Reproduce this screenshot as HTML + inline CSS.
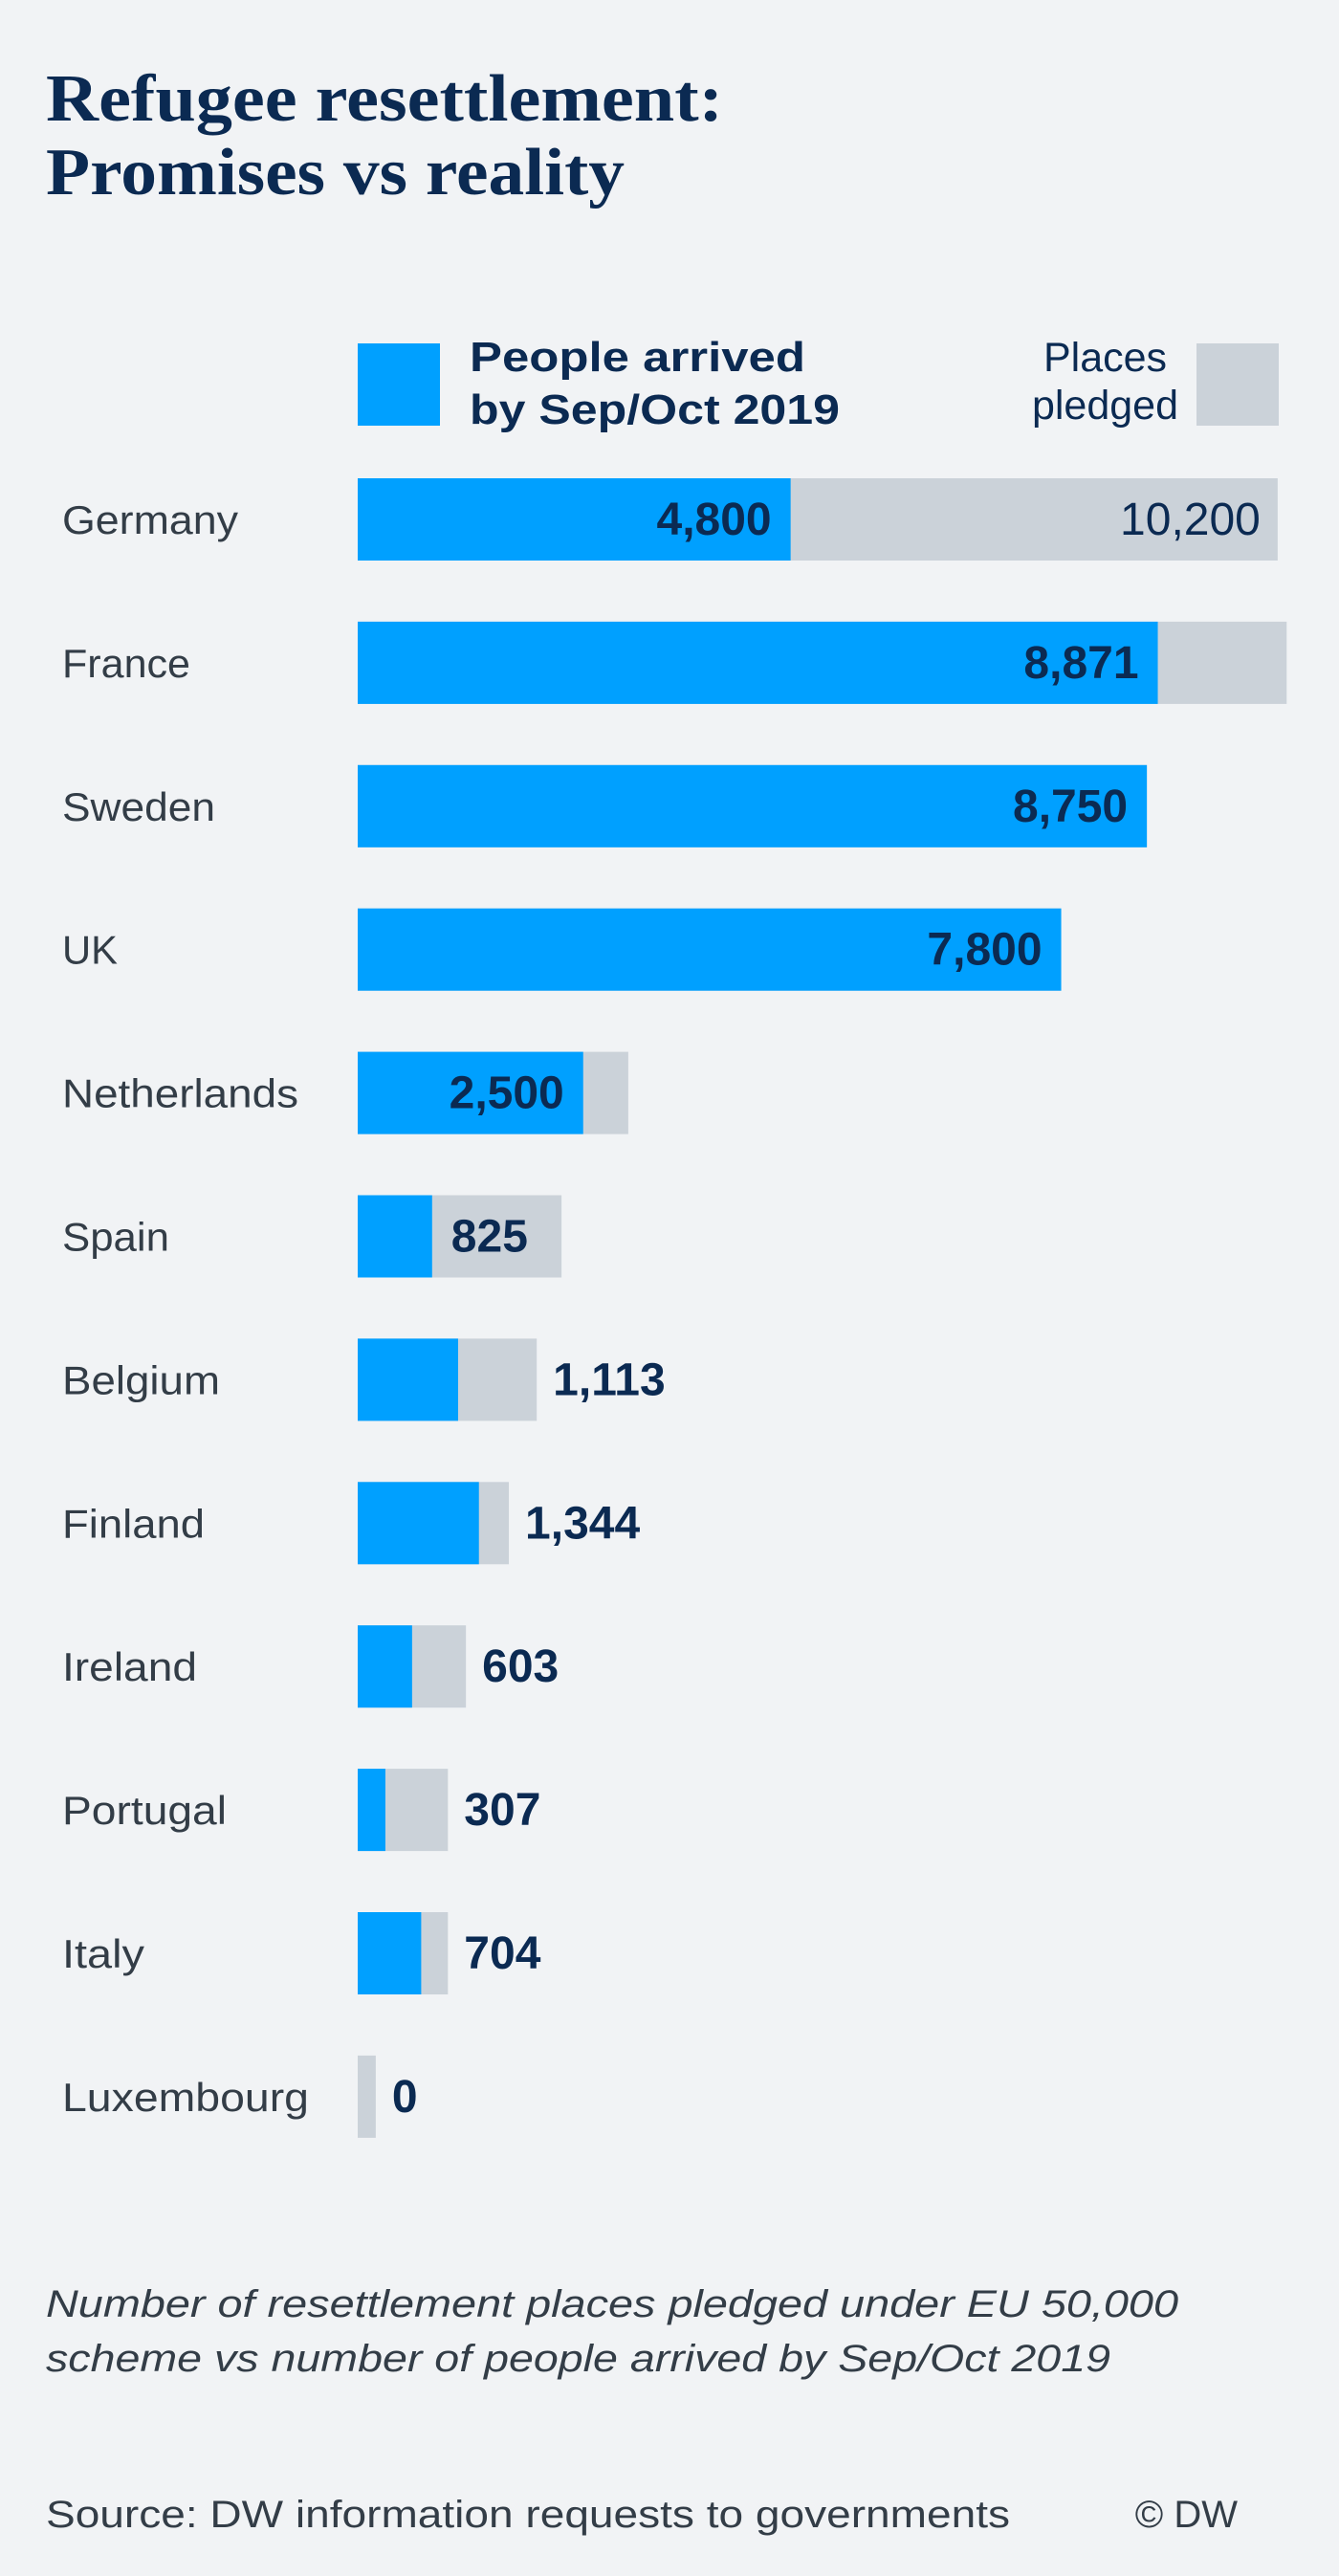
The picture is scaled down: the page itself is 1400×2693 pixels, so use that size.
<!DOCTYPE html>
<html><head><meta charset="utf-8">
<style>
html,body{margin:0;padding:0;background:#f1f3f5;}
svg{display:block;}
</style></head>
<body>
<svg id="chart" width="1400" height="2693" viewBox="0 0 1400 2693" xmlns="http://www.w3.org/2000/svg" font-family="'Liberation Sans', sans-serif">
<rect x="0" y="0" width="1400" height="2693" fill="#f1f3f5"/>
<text fill="#0b2a52" font-family="'Liberation Serif', serif" font-weight="bold" font-size="70">
<tspan x="48" y="126" textLength="708" lengthAdjust="spacingAndGlyphs">Refugee resettlement:</tspan>
<tspan x="48" y="203" textLength="605" lengthAdjust="spacingAndGlyphs">Promises vs reality</tspan>
</text>
<g>
<rect x="374" y="359" width="86" height="86" fill="#00a0ff"/>
<text fill="#0b2a52" font-weight="bold" font-size="44">
<tspan x="491" y="388" textLength="351" lengthAdjust="spacingAndGlyphs">People arrived</tspan>
<tspan x="491" y="443" textLength="387" lengthAdjust="spacingAndGlyphs">by Sep/Oct 2019</tspan>
</text>
<text fill="#0b2a52" font-size="43" text-anchor="end">
<tspan x="1232" y="388">Places</tspan>
<tspan x="1232" y="438">pledged</tspan>
</text>
<rect x="1251" y="359" width="86" height="86" fill="#cbd2d9"/>
</g>
<g id="bars"></g>
<text fill="#333d47" font-style="italic" font-size="40">
<tspan x="48" y="2422" textLength="1184" lengthAdjust="spacingAndGlyphs">Number of resettlement places pledged under EU 50,000</tspan>
<tspan x="48" y="2479" textLength="1113" lengthAdjust="spacingAndGlyphs">scheme vs number of people arrived by Sep/Oct 2019</tspan>
</text>
<text x="48" y="2642" fill="#333d47" font-size="40" textLength="1008" lengthAdjust="spacingAndGlyphs">Source: DW information requests to governments</text>
<text x="1294" y="2642" fill="#333d47" font-size="40" text-anchor="end">© DW</text>
</svg>
<script>
const countries = ["Germany","France","Sweden","UK","Netherlands","Spain","Belgium","Finland","Ireland","Portugal","Italy","Luxembourg"];
const arrived = [4800,8871,8750,7800,2500,825,1113,1344,603,307,704,0];
const pledged = [10200,10300,8750,7800,3000,2260,1985,1676,1200,1000,1000,200];
const nameWidths = [184,134,160,58,247,112,165,149,141,172,86,258];

const NS = "http://www.w3.org/2000/svg";
const g = document.getElementById("bars");
const x0 = 374, scale = 0.0943, top0 = 500, pitch = 149.9, bh = 86;
function xs(v){ return v * scale; }
function yRow(i){ return top0 + i * pitch; }
function fmt(v){ return v.toLocaleString("en-US"); }
function labelW(s){ return s.length * 25.6; }
function mk(tag, attrs){ const e = document.createElementNS(NS, tag); for (const k in attrs) e.setAttribute(k, attrs[k]); return e; }

countries.forEach((c, i) => {
  const y = yRow(i), cy = y + bh/2 + 15;
  const slug = c.toLowerCase();
  const nm = mk("text", {x:65, y:cy, fill:"#333d47", "font-size":42, textLength:nameWidths[i], lengthAdjust:"spacingAndGlyphs"});
  nm.textContent = c;
  
  
  g.appendChild(nm);

  const pw = xs(pledged[i]), aw = xs(arrived[i]);
  const pr = mk("rect", {x:x0, y:y, width:pw, height:bh, fill:"#cbd2d9"});
  
  
  g.appendChild(pr);
  if (aw > 0) {
    const ar = mk("rect", {x:x0, y:y, width:aw, height:bh, fill:"#00a0ff"});
    
    
    g.appendChild(ar);
  }
  const s = fmt(arrived[i]), lw = labelW(s);
  let lx, anchor = "start";
  if (aw >= lw + 40) { lx = x0 + aw - 20; anchor = "end"; }
  else if (x0 + aw + 20 + lw <= x0 + pw) { lx = x0 + aw + 20; }
  else { lx = x0 + pw + 17; }
  const vl = mk("text", {x:lx, y:cy + 1, fill:"#0b2a52", "font-size":48, "font-weight":"bold", "text-anchor":anchor});
  vl.textContent = s;
  
  
  g.appendChild(vl);

  const ps = fmt(pledged[i]);
  if (pw - aw >= labelW(ps) + 60) {
    const pl = mk("text", {x:x0 + pw - 18, y:cy + 1, fill:"#0b2a52", "font-size":48, "text-anchor":"end"});
    pl.textContent = ps;
    
    
    g.appendChild(pl);
  }
});
</script>
</body></html>
